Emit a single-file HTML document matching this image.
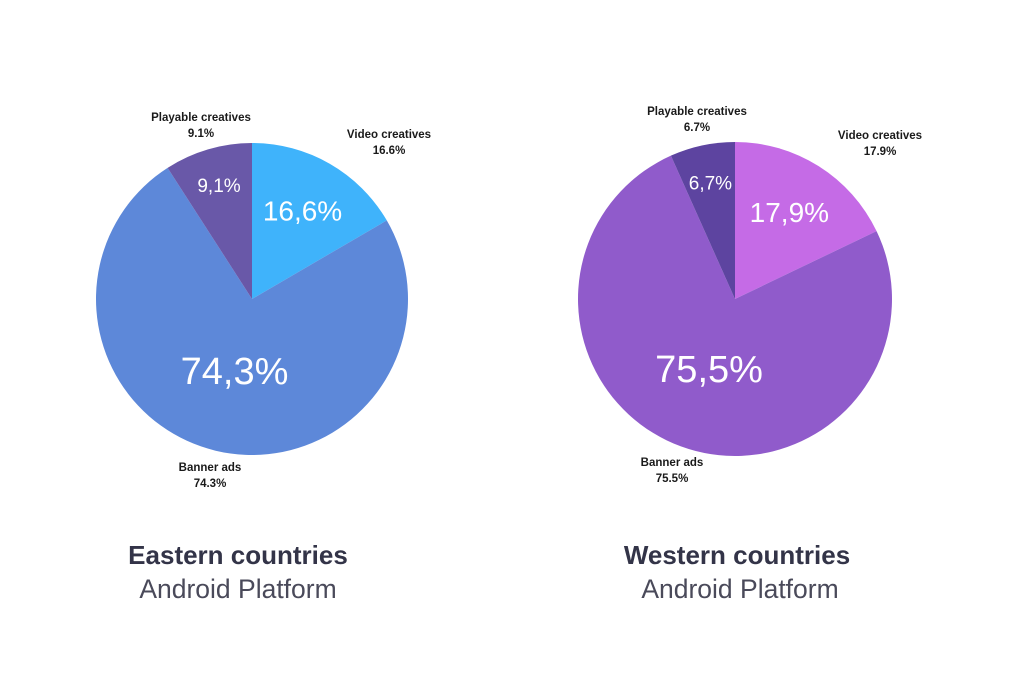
<!DOCTYPE html>
<html><head><meta charset="utf-8"><style>
body{margin:0;background:#fff;width:1024px;height:683px;overflow:hidden;font-family:"Liberation Sans",sans-serif}
.lbl{position:absolute;font-size:11.5px;font-weight:bold;color:#1a1a1a;text-align:center;line-height:16px;transform:translateX(-50%);white-space:nowrap}
.t1{position:absolute;font-size:26px;font-weight:bold;color:#333448;transform:translateX(-50%);white-space:nowrap}
.t2{position:absolute;font-size:26.5px;color:#4a4a5a;transform:translateX(-50%);white-space:nowrap}
</style></head><body>
<svg id="chart" width="1024" height="683" style="position:absolute;left:0;top:0"></svg>
<div class="lbl" style="left:201px;top:110px">Playable creatives<br>9.1%</div>
<div class="lbl" style="left:389px;top:127px">Video creatives<br>16.6%</div>
<div class="lbl" style="left:210px;top:460px">Banner ads<br>74.3%</div>
<div class="lbl" style="left:697px;top:104px">Playable creatives<br>6.7%</div>
<div class="lbl" style="left:880px;top:128px">Video creatives<br>17.9%</div>
<div class="lbl" style="left:672px;top:455px">Banner ads<br>75.5%</div>
<div class="t1" style="left:238px;top:540px">Eastern countries</div>
<div class="t2" style="left:238px;top:574px">Android Platform</div>
<div class="t1" style="left:737px;top:540px">Western countries</div>
<div class="t2" style="left:740px;top:574px">Android Platform</div>
<script>
const categories=["Video creatives","Banner ads","Playable creatives"];
const eastValues=[16.6,74.3,9.1];
const westValues=[17.9,75.5,6.7];
const eastLabels=["16,6%","74,3%","9,1%"];
const westLabels=["17,9%","75,5%","6,7%"];
const svg=document.getElementById('chart');
const NS="http://www.w3.org/2000/svg";
function pie(cx,cy,R,vals,labels,colors,fonts,name){
  const tot=vals.reduce((a,b)=>a+b,0);let a0=0;
  const rf=[0.65,0.48,0.75];
  vals.forEach((v,i)=>{
    const a1=a0+v/tot*2*Math.PI;
    const x0=cx+R*Math.sin(a0),y0=cy-R*Math.cos(a0),x1=cx+R*Math.sin(a1),y1=cy-R*Math.cos(a1);
    const p=document.createElementNS(NS,'path');
    p.setAttribute('d',`M${cx},${cy}L${x0},${y0}A${R},${R} 0 ${a1-a0>Math.PI?1:0} 1 ${x1},${y1}Z`);
    p.setAttribute('fill',colors[i]);
    
    
    svg.appendChild(p);
    const m=(a0+a1)/2;
    const t=document.createElementNS(NS,'text');
    t.setAttribute('x',cx+R*rf[i]*Math.sin(m));
    t.setAttribute('y',cy-R*rf[i]*Math.cos(m));
    t.setAttribute('text-anchor','middle');t.setAttribute('dominant-baseline','central');
    t.setAttribute('fill','#fff');t.setAttribute('font-size',fonts[i]);
    t.setAttribute('font-family','Liberation Sans, sans-serif');
    
    
    t.textContent=labels[i];svg.appendChild(t);
    a0=a1;
  });
}
pie(252,299,156,eastValues,eastLabels,["#3fb3fb","#5d88d9","#6958a8"],[28,38,19],'east');
pie(735,299,157,westValues,westLabels,["#c56be6","#905bcb","#5d44a0"],[28,38,19],'west');
</script>
</body></html>
